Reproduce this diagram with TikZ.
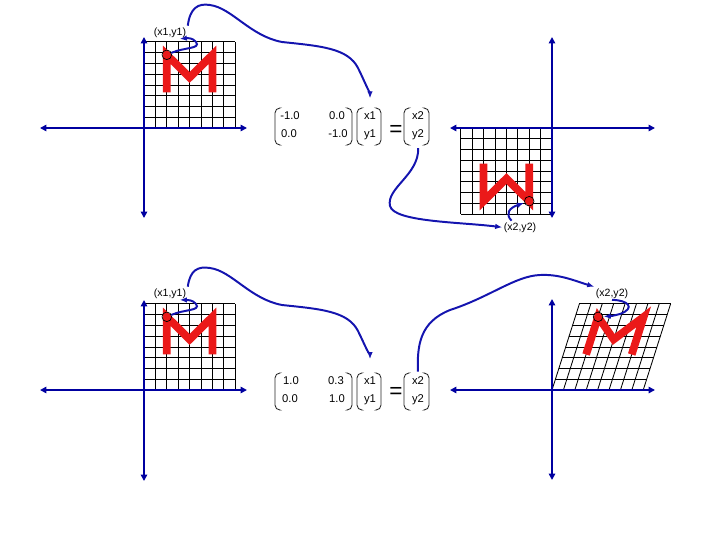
\documentclass[tikz,border=0pt]{standalone}
\usepackage{fontspec}
\setmainfont{Liberation Sans}
\usepackage{tikz}
\usetikzlibrary{arrows.meta,calc}
\definecolor{axisblue}{RGB}{0,0,160}
\definecolor{curveblue}{RGB}{20,20,175}
\definecolor{mred}{RGB}{235,25,25}

\begin{document}
\begin{tikzpicture}[x=0.025cm, y=-0.025cm,
    axis/.style={axisblue, line width=1.6pt, {Triangle[length=4.5pt,width=4.5pt]}-{Triangle[length=4.5pt,width=4.5pt]}},
    gridline/.style={black, line width=0.6pt},
    letter/.style={mred, line width=5.5pt, line join=miter},
    pt/.style={black, line width=0.5pt},
    link/.style={curveblue, line width=1.4pt, -{Latex[length=5pt,width=4pt]}},
    lbl/.style={font=\fontsize{7.5}{9}\selectfont, inner sep=1pt, anchor=base},
    entry/.style={font=\fontsize{8}{9}\selectfont, inner sep=1pt, anchor=base},
    eqsign/.style={font=\fontsize{16}{16}\selectfont, inner sep=0pt},
    paren/.style={black!85, line width=0.6pt, rounded corners=3.5pt}]
\useasboundingbox (0,0) rectangle (720,540);

% Rotation: original M
\begin{scope}[shift={(144,128)}, x=0.285cm, y=0.269cm]
    \foreach \i in {0,...,8} {
        \draw[gridline] (\i,0) -- (\i,8);
        \draw[gridline] (0,\i) -- (8,\i);
    }
    \draw[letter] (2,3.3) -- (2,6.8) -- (4,4.7) -- (6,6.8) -- (6,3.3);
    \coordinate (p1) at (2,6.8);
\end{scope}
\draw[pt] (p1) circle[radius=0.12cm];
\draw[axis] (144,37) -- (144,218);
\draw[axis] (40,128) -- (247,128);

% Rotation: result W
\begin{scope}[shift={(552,128)}, x=-0.285cm, y=-0.269cm]
    \foreach \i in {0,...,8} {
        \draw[gridline] (\i,0) -- (\i,8);
        \draw[gridline] (0,\i) -- (8,\i);
    }
    \draw[letter] (2,3.3) -- (2,6.8) -- (4,4.7) -- (6,6.8) -- (6,3.3);
    \coordinate (p2) at (2,6.8);
\end{scope}
\draw[pt] (p2) circle[radius=0.12cm];
\draw[axis] (552,37) -- (552,218);
\draw[axis] (450,128) -- (655,128);

% Shear: original M
\begin{scope}[shift={(144,390)}, x=0.285cm, y=0.269cm]
    \foreach \i in {0,...,8} {
        \draw[gridline] (\i,0) -- (\i,8);
        \draw[gridline] (0,\i) -- (8,\i);
    }
    \draw[letter] (2,3.3) -- (2,6.8) -- (4,4.7) -- (6,6.8) -- (6,3.3);
    \coordinate (p3) at (2,6.8);
\end{scope}
\draw[pt] (p3) circle[radius=0.12cm];
\draw[axis] (144,300) -- (144,481);
\draw[axis] (40,390) -- (247,390);

% Shear: result
\begin{scope}[shift={(552,390)}, x=0.285cm, y={(0.0855cm,0.269cm)}]
    \foreach \i in {0,...,8} {
        \draw[gridline] (\i,0) -- (\i,8);
        \draw[gridline] (0,\i) -- (8,\i);
    }
    \draw[letter] (2,3.3) -- (2,6.8) -- (4,4.7) -- (6,6.8) -- (6,3.3);
    \coordinate (p4) at (2,6.8);
\end{scope}
\draw[pt] (p4) circle[radius=0.12cm];
\draw[axis] (552,299) -- (552,480);
\draw[axis] (450,390) -- (655,390);

% matrices
\node[entry] (a11) at (290,119) {-1.0};
\node[entry] (a12) at (337,119) {0.0};
\node[entry] (a21) at (289,137) {0.0};
\node[entry] (a22) at (338,137) {-1.0};
\node[entry] (x1a) at (370,119) {x1};
\node[entry] (y1a) at (370,137) {y1};
\node[eqsign] (eqa) at (396,131) {=};
\node[entry] (x2a) at (418,119) {x2};
\node[entry] (y2a) at (418,137) {y2};

\node[entry] (b11) at (291,384) {1.0};
\node[entry] (b12) at (336,384) {0.3};
\node[entry] (b21) at (290,402) {0.0};
\node[entry] (b22) at (337,402) {1.0};
\node[entry] (x1b) at (370,384) {x1};
\node[entry] (y1b) at (370,402) {y1};
\node[eqsign] (eqb) at (396,393) {=};
\node[entry] (x2b) at (418,384) {x2};
\node[entry] (y2b) at (418,402) {y2};

\foreach \ya/\yb in {108/145, 373/410} {
    \foreach \xl/\xr in {275/352, 357/381, 404/429} {
        \draw[paren] (\xl+4,\ya) -- (\xl,\ya) -- (\xl,\yb) -- (\xl+4,\yb);
        \draw[paren] (\xr-4,\ya) -- (\xr,\ya) -- (\xr,\yb) -- (\xr-4,\yb);
    }
}

% point labels
\node[lbl] (lab1) at (170,35) {(x1,y1)};
\node[lbl] (lab2) at (520,230) {(x2,y2)};
\node[lbl] (lab3) at (170,296) {(x1,y1)};
\node[lbl] (lab4) at (612,296) {(x2,y2)};

% curved arrows
\draw[link, shorten <=3.5pt] (p1) .. controls (185,47) and (201,49) .. (196,42)
    .. controls (193,38) and (188,38) .. ([xshift=7pt]lab1.south);
\draw[link, shorten >=8pt] (lab1.north east) .. controls (190,8) and (198,3) .. (210,5)
    .. controls (232,8) and (250,36) .. (282,42)
    .. controls (320,46) and (348,48) .. (358,68)
    .. controls (364,80) and (370,95) .. (x1a.north);
\draw[link, shorten <=5pt] (y2a.south) .. controls (419,175) and (386,188) .. (390,206)
    .. controls (394,222) and (460,222) .. (lab2.west);
\draw[link, shorten >=4pt] ([xshift=-6pt]lab2.north) .. controls (505,214) and (509,208) .. (p2);

\draw[link, shorten <=3.5pt] (p3) .. controls (185,309) and (201,311) .. (196,304)
    .. controls (193,300) and (188,300) .. ([xshift=7pt]lab3.south);
\draw[link, shorten >=11pt] (lab3.north east) .. controls (190,270) and (198,266) .. (210,268)
    .. controls (232,271) and (250,299) .. (282,305)
    .. controls (320,309) and (348,311) .. (358,331)
    .. controls (364,343) and (370,358) .. (x1b.north);
\draw[link, shorten <=2pt] (x2b.north) .. controls (417,345) and (420,322) .. (450,310)
    .. controls (490,297) and (515,276) .. (540,275)
    .. controls (560,274) and (575,281) .. (lab4.north west);
\draw[link, shorten >=4pt] (lab4.south) .. controls (628,300) and (636,308) .. (620,314)
    .. controls (612,316) .. (p4);
\end{tikzpicture}
\end{document}
